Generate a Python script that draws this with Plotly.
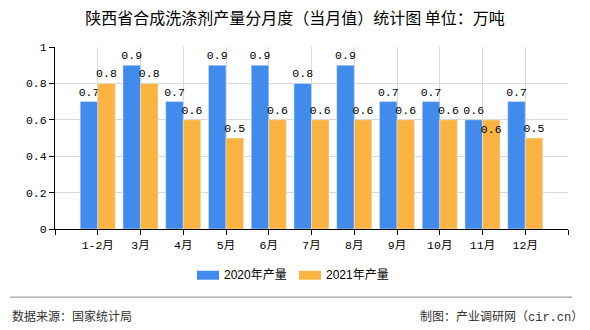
import plotly.graph_objects as go

months = ["1-2月", "3月", "4月", "5月", "6月", "7月", "8月", "9月", "10月", "11月", "12月"]
series_names = ["2020年产量", "2021年产量"]
values_2020 = [0.7, 0.9, 0.7, 0.9, 0.9, 0.8, 0.9, 0.7, 0.7, 0.6, 0.7]
values_2021 = [0.8, 0.8, 0.6, 0.5, 0.6, 0.6, 0.6, 0.6, 0.6, 0.6, 0.5]
y_ticks = [0, 0.2, 0.4, 0.6, 0.8, 1]
y_ticktext = ["0", "0.2", "0.4", "0.6", "0.8", "1"]
colors = ["#418BED", "#FBB441"]

W, H = 590, 330
L, R, T, B = 55, 568, 46.5, 229.5

def px(x):
    return (x - L) / (R - L)

def py(y):
    return (B - y) / (B - T)

MONO = "Liberation Mono, Noto Sans CJK SC, monospace"
CJK = "Noto Sans CJK SC, sans-serif"

idx = list(range(len(months)))

fig = go.Figure()
fig.add_trace(go.Bar(
    x=idx, y=values_2020, name=series_names[0], marker_color=colors[0],
    text=[f"{v:g}" for v in values_2020], textposition="outside", textangle=0,
    textfont=dict(family=MONO, size=11.5, color="#000"), cliponaxis=False,
))
pos2021 = ["outside"] * len(values_2021)
pos2021[9] = "inside"
fig.add_trace(go.Bar(
    x=idx, y=values_2021, name=series_names[1], marker_color=colors[1],
    text=[f"{v:g}" for v in values_2021], textposition=pos2021, textangle=0,
    insidetextanchor="end",
    textfont=dict(family=MONO, size=11.5, color="#000"), cliponaxis=False,
))

fig.update_layout(
    width=W, height=H,
    margin=dict(l=L, r=W - R, t=T, b=H - B),
    paper_bgcolor="white", plot_bgcolor="white",
    barmode="group", bargap=0.18, bargroupgap=0,
    showlegend=False,
    title=dict(text="陕西省合成洗涤剂产量分月度（当月值）统计图 单位：万吨",
               x=0.5, xanchor="center", y=1 - 18 / H, yanchor="middle",
               font=dict(family=CJK, size=16, color="#000")),
    font=dict(family=MONO, size=12, color="#000"),
)
fig.update_traces(constraintext="none")

fig.update_xaxes(
    range=[-1, len(months)], tickmode="array",
    tickvals=list(range(-1, len(months) + 1)),
    ticktext=[""] + months + [""],
    showgrid=True, gridcolor="#D9D9D9", gridwidth=1,
    showline=True, linecolor="#000", linewidth=1,
    ticks="outside", ticklen=5, tickcolor="#000",
    tickfont=dict(family=MONO, size=11.5, color="#000"),
    zeroline=False, fixedrange=True,
)
fig.update_yaxes(
    range=[0, 1], tickmode="array", tickvals=y_ticks, ticktext=y_ticktext,
    showgrid=True, gridcolor="#D9D9D9", gridwidth=1,
    showline=True, linecolor="#000", linewidth=1,
    ticks="outside", ticklen=5, tickcolor="#000",
    tickfont=dict(family=MONO, size=11.5, color="#000"),
    zeroline=False, fixedrange=True,
)

shapes = []
annotations = []
# manual legend
legend_x = [197, 299]
for i, name in enumerate(series_names):
    x0 = legend_x[i]
    shapes.append(dict(type="rect", xref="paper", yref="paper",
                       x0=px(x0), x1=px(x0 + 22), y0=py(280.5), y1=py(271.5),
                       fillcolor=colors[i], line=dict(width=0)))
    annotations.append(dict(text=name, xref="paper", yref="paper",
                            x=px(x0 + 25), y=py(276), xanchor="left", yanchor="middle",
                            showarrow=False,
                            font=dict(family="Liberation Sans, Noto Sans CJK SC", size=12, color="#000")))
# footer line
shapes.append(dict(type="line", xref="paper", yref="paper",
                   x0=px(10), x1=px(572), y0=py(298), y1=py(298),
                   line=dict(color="#888888", width=1)))
annotations.append(dict(text="数据来源：国家统计局", xref="paper", yref="paper",
                        x=px(10), y=py(318), xanchor="left", yanchor="middle",
                        showarrow=False, font=dict(family=MONO, size=12, color="#333")))
annotations.append(dict(text="制图：产业调研网（cir.cn）", xref="paper", yref="paper",
                        x=px(585), y=py(318), xanchor="right", yanchor="middle",
                        showarrow=False, font=dict(family=MONO, size=12, color="#333")))
fig.update_layout(shapes=shapes, annotations=annotations)

fig.write_html("out.html", config={"displayModeBar": False})
